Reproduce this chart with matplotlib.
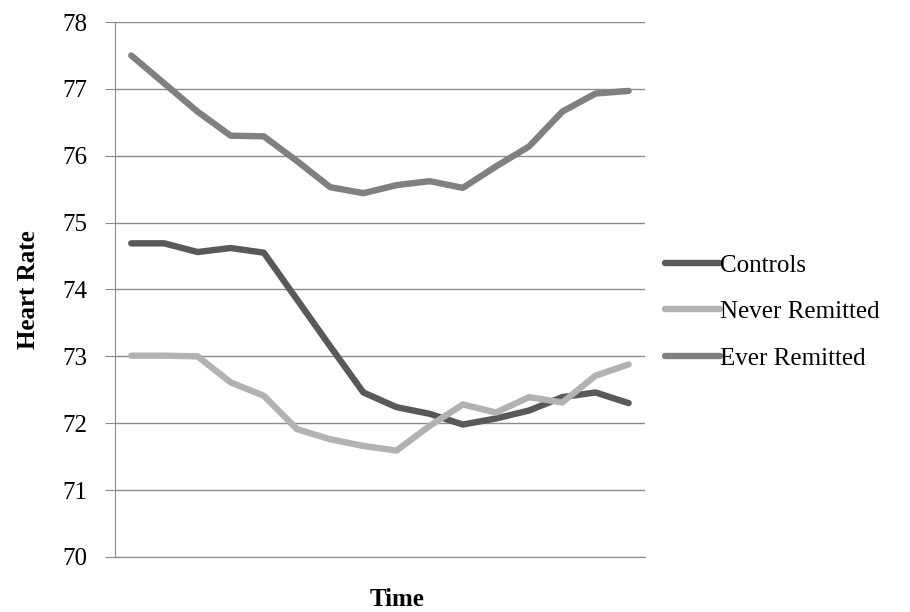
import matplotlib.pyplot as plt

plt.rcParams['font.family'] = ['Liberation Serif', 'DejaVu Serif']

time_idx = list(range(16))
controls = [74.69, 74.69, 74.56, 74.62, 74.55, 73.85, 73.15, 72.46,
            72.24, 72.14, 71.98, 72.07, 72.19, 72.39, 72.46, 72.30]
never_remitted = [73.01, 73.01, 73.0, 72.61, 72.41, 71.91, 71.76, 71.66,
                  71.59, 71.96, 72.28, 72.16, 72.39, 72.31, 72.71, 72.88]
ever_remitted = [77.50, 77.08, 76.66, 76.30, 76.29, 75.92, 75.53, 75.44,
                 75.56, 75.62, 75.52, 75.84, 76.14, 76.66, 76.93, 76.97]
y_ticks = list(range(70, 79))

fig = plt.figure(figsize=(9.1, 6.12), dpi=100)
ax = fig.add_axes([0.126, 0.090, 0.583, 0.874])

lw = 4.6
ax.plot(time_idx, controls, color='#595959', lw=lw, solid_capstyle='round',
        solid_joinstyle='round', label='Controls', zorder=3)
ax.plot(time_idx, never_remitted, color='#b2b2b2', lw=lw, solid_capstyle='round',
        solid_joinstyle='round', label='Never Remitted', zorder=3)
ax.plot(time_idx, ever_remitted, color='#808080', lw=lw, solid_capstyle='round',
        solid_joinstyle='round', label='Ever Remitted', zorder=3)

ax.set_xlim(-0.5, 15.5)
ax.set_ylim(70, 78)
ax.set_yticks(y_ticks)
ax.set_xticks([])
ax.grid(axis='y', color='#8c8c8c', lw=1.0)
ax.set_axisbelow(True)
for s in ['top', 'right']:
    ax.spines[s].set_visible(False)
ax.spines['left'].set_color('#8c8c8c')
ax.spines['bottom'].set_color('#8c8c8c')
ax.tick_params(axis='y', length=7, color='#8c8c8c', labelsize=18, pad=13)

ax.set_ylabel('Heart Rate', fontsize=18, fontweight='bold', labelpad=16)
ax.set_xlabel('Time', fontsize=18, fontweight='bold')
ax.xaxis.set_label_coords(0.532, -0.058)

ax.legend(loc='center left', bbox_to_anchor=(1.0, 0.458), frameon=False,
          fontsize=18, handlelength=2.2, handletextpad=0.0,
          labelspacing=0.96, borderaxespad=0.4)

fig.savefig('out.png', dpi=100)
